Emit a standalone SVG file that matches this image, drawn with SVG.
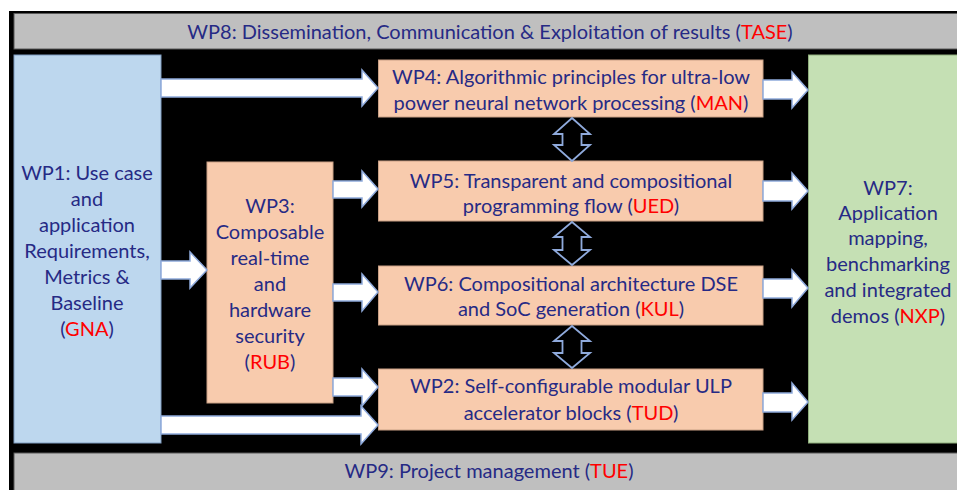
<svg xmlns="http://www.w3.org/2000/svg" width="957" height="490" viewBox="0 0 957 490">
<style>
text{font-family:Lato,"Open Sans","Liberation Sans",sans-serif;font-size:20px;fill:#262a85;text-anchor:middle;dominant-baseline:central}
.r{fill:#ff0000}
.band{fill:#bfbfbf;stroke:#595959;stroke-width:1}
.wp1{fill:#bdd7ee;stroke:#7f9cc0;stroke-width:1}
.wp7{fill:#c5e0b4;stroke:#8fae7c;stroke-width:1}
.or{fill:#f8cbad;stroke:#c9a085;stroke-width:1}
.ba{fill:#ffffff;stroke:#8faadc;stroke-width:1.5;stroke-linejoin:miter}
.da{fill:#000000;stroke:#8faadc;stroke-width:1.8;stroke-linejoin:miter}
</style>
<rect x="0" y="0" width="957" height="490" fill="#ffffff"/>
<rect x="9" y="11" width="948" height="479" fill="#000000"/>
<g id="wp8"><rect class="band" x="14" y="13.5" width="945" height="35.5"/><text x="490" y="31">WP8: Dissemination, Communication &amp; Exploitation of results (<tspan class="r">TASE</tspan>)</text></g>
<g id="wp9"><rect class="band" x="14" y="453" width="945" height="38"/><text x="489" y="470">WP9: Project management (<tspan class="r">TUE</tspan>)</text></g>
<g id="wp1"><rect class="wp1" x="14" y="55" width="147" height="388"/>
<text x="87" y="172">WP1: Use case</text><text x="87" y="198">and</text><text x="87" y="224">application</text><text x="87" y="250">Requirements,</text><text x="87" y="276">Metrics &amp;</text><text x="87" y="302">Baseline</text><text x="87" y="328">(<tspan class="r">GNA</tspan>)</text></g>
<g id="wp3"><rect class="or" x="207" y="162" width="126" height="241"/>
<text x="270" y="205">WP3:</text><text x="270" y="231">Composable</text><text x="270" y="257">real-time</text><text x="270" y="283">and</text><text x="270" y="309">hardware</text><text x="270" y="335">security</text><text x="270" y="361">(<tspan class="r">RUB</tspan>)</text></g>
<g id="wp4"><rect class="or" x="378.5" y="60" width="384.5" height="57"/>
<text x="571" y="76">WP4: Algorithmic principles for ultra-low</text><text x="571" y="102">power neural network processing (<tspan class="r">MAN</tspan>)</text></g>
<g id="wp5"><rect class="or" x="378.5" y="161" width="384.5" height="60"/>
<text x="571" y="180">WP5: Transparent and compositional</text><text x="571" y="205">programming flow (<tspan class="r">UED</tspan>)</text></g>
<g id="wp6"><rect class="or" x="378.5" y="266" width="384.5" height="59"/>
<text x="571" y="283">WP6: Compositional architecture DSE</text><text x="571" y="308">and SoC generation (<tspan class="r">KUL</tspan>)</text></g>
<g id="wp2"><rect class="or" x="378.5" y="369" width="384.5" height="61"/>
<text x="571" y="385">WP2: Self-configurable modular ULP</text><text x="571" y="412">accelerator blocks (<tspan class="r">TUD</tspan>)</text></g>
<g id="wp7"><rect class="wp7" x="808.5" y="55" width="150" height="388"/>
<text x="888" y="187">WP7:</text><text x="888" y="212">Application</text><text x="888" y="237">mapping,</text><text x="888" y="263">benchmarking</text><text x="888" y="289">and integrated</text><text x="888" y="315">demos (<tspan class="r">NXP</tspan>)</text></g>
<g id="connectors">
<path class="ba" d="M161 79 H362 V70 L378 88 L362 106 V97 H161 Z"/>
<path class="ba" d="M161 416 H361 V406 L378 425 L361 444 V434 H161 Z"/>
<path class="ba" d="M161 261 H190 V252 L207 270 L190 288 V279 H161 Z"/>
<path class="ba" d="M333 181 H362 V171 L378 189 L362 207 V198 H333 Z"/>
<path class="ba" d="M333 284 H362 V274 L378 292 L362 311 V301 H333 Z"/>
<path class="ba" d="M333 378 H362 V369 L378 387 L362 406 V396 H333 Z"/>
<path class="ba" d="M763 80 H792 V72 L808 90 L792 108 V99 H763 Z"/>
<path class="ba" d="M763 181 H792 V173 L808 191 L792 209 V201 H763 Z"/>
<path class="ba" d="M763 279 H792 V270 L808 288 L792 307 V298 H763 Z"/>
<path class="ba" d="M763 393 H792 V383 L808 402 L792 420 V412 H763 Z"/>
<path class="da" d="M572 118 L590 134 H581.5 V145 H590 L572 161 L554 145 H562.5 V134 H554 Z"/>
<path class="da" d="M572 222 L590 237 H581.5 V250 H590 L572 265 L554 250 H562.5 V237 H554 Z"/>
<path class="da" d="M572 326 L590 341 H581.5 V353 H590 L572 368 L554 353 H562.5 V341 H554 Z"/>
</g>
</svg>
